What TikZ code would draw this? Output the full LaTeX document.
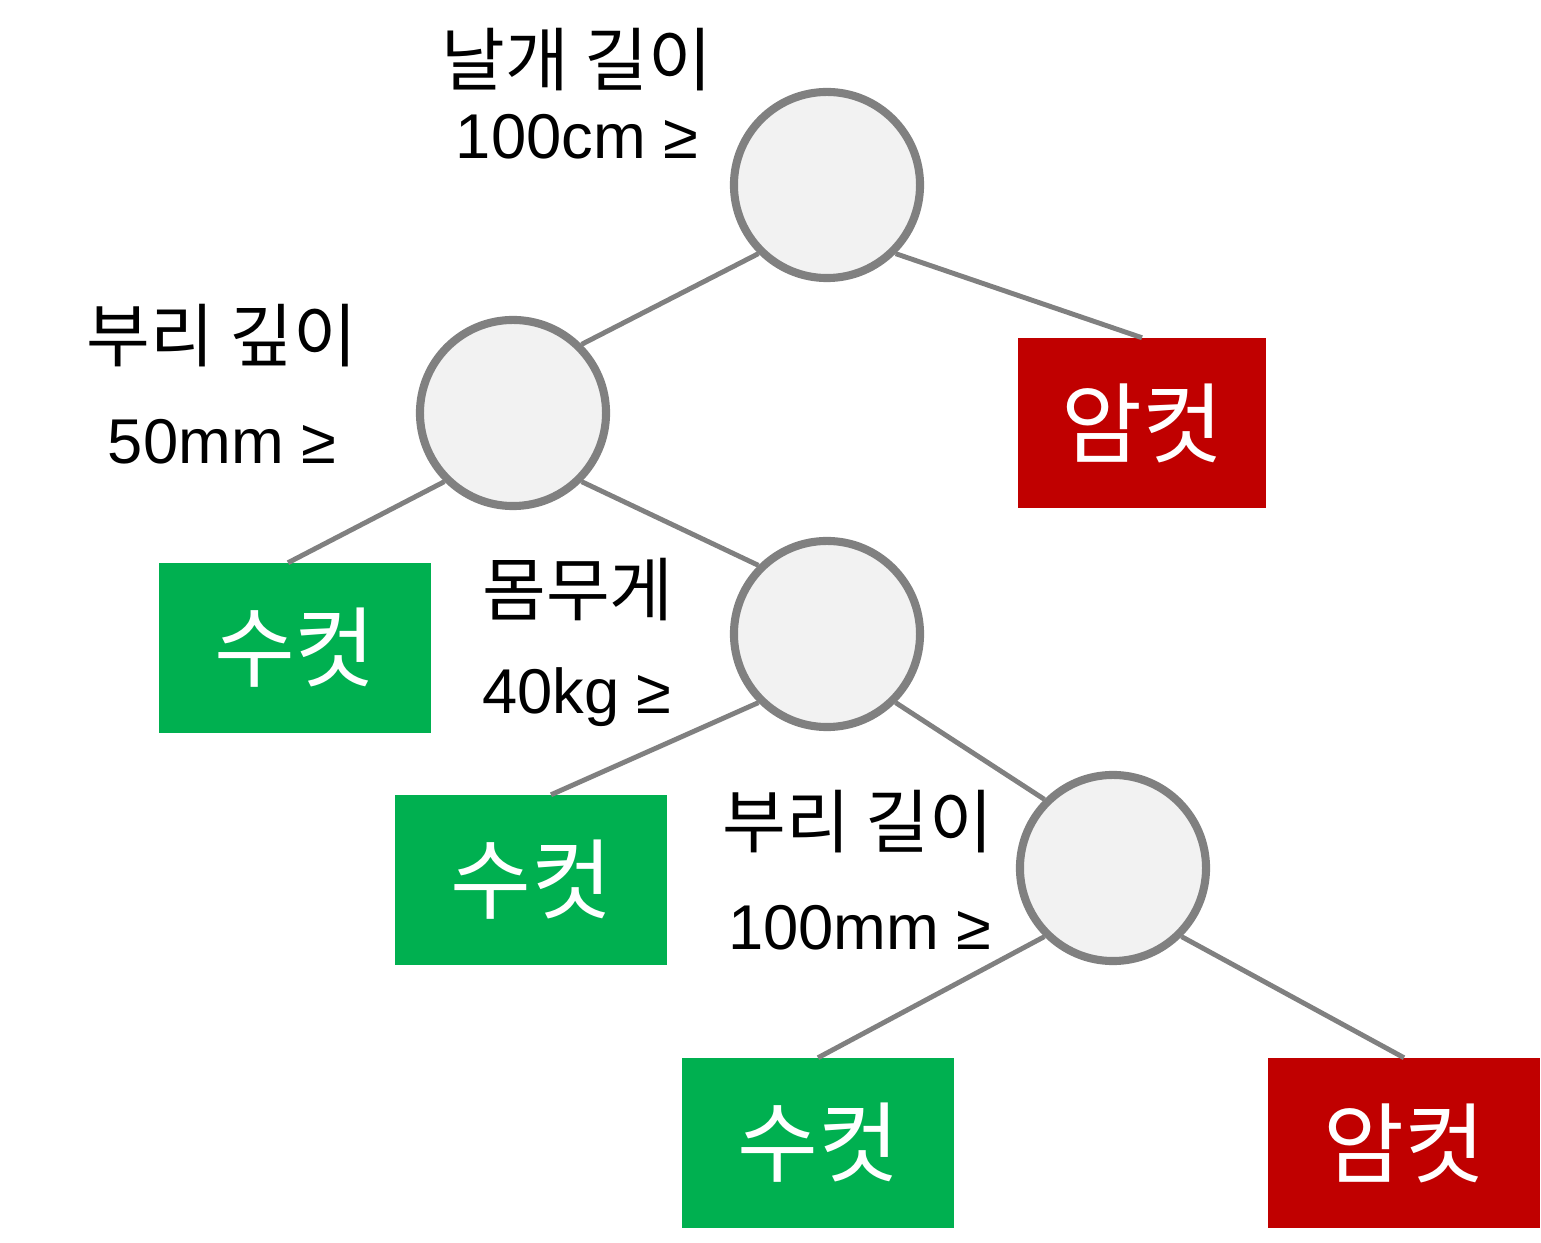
\documentclass[tikz,border=0pt]{standalone}
\usepackage{fontspec}
\setmainfont{Liberation Sans}
\newfontfamily\kr{Noto Sans CJK KR}
\usetikzlibrary{positioning}
\definecolor{treegray}{RGB}{128,128,128}
\definecolor{splitfill}{RGB}{242,242,242}
\definecolor{femred}{RGB}{192,0,0}
\definecolor{malegreen}{RGB}{0,176,80}

\begin{document}
\begin{tikzpicture}[x=0.01cm,y=-0.01cm,
  split/.style={circle,draw=treegray,line width=2.3pt,fill=splitfill,minimum size=1.86cm,inner sep=0pt},
  leaf/.style={minimum width=2.72cm,minimum height=1.69cm,inner sep=0pt,text=white,font=\kr\fontsize{25}{28}\selectfont},
  female/.style={leaf,fill=femred},
  male/.style={leaf,fill=malegreen},
  kname/.style={font=\kr\fontsize{19.7}{23}\selectfont},
  kval/.style={font=\fontsize{18}{22}\selectfont},
  edge/.style={treegray,line width=1.4pt}]
  \useasboundingbox (0,0) rectangle (1541,1243);

  % split nodes
  \node[split] (root) at (827,185) {};
  \node[split] (s2) at (513,413) {};
  \node[split] (s3) at (827,634) {};
  \node[split] (s4) at (1113,868) {};

  % leaves
  \node[female,minimum width=2.47cm] (f1) at (1142,423) {암컷};
  \node[male] (m1) at (295,648) {수컷};
  \node[male] (m2) at (531,880) {수컷};
  \node[male] (m3) at (818,1143) {수컷};
  \node[female] (f2) at (1404,1143) {암컷};

  % conditions
  \node[kname] (c1a) at (577,60) {날개 길이};
  \node[kval] (c1b) at (577,137) {100cm ≥};
  \node[kname] (c2a) at (222,336) {부리 깊이};
  \node[kval] (c2b) at (222,442) {50mm ≥};
  \node[kname] (c3a) at (578,590) {몸무게};
  \node[kval] (c3b) at (577,697) {40kg ≥};
  \node[kname] (c4a) at (858,822) {부리 길이};
  \node[kval] (c4b) at (860,928) {100mm ≥};

  % branches
  \draw[edge] (root.-135) -- (s2.45);
  \draw[edge] (root.-45) -- (f1.north);
  \draw[edge] (s2.-135) -- ([xshift=-0.07cm]m1.north);
  \draw[edge] (s2.-45) -- (s3.135);
  \draw[edge] (s3.-135) -- ([xshift=0.2cm]m2.north);
  \draw[edge] (s3.-45) -- (s4.135);
  \draw[edge] (s4.-135) -- (m3.north);
  \draw[edge] (s4.-45) -- (f2.north);
\end{tikzpicture}
\end{document}
